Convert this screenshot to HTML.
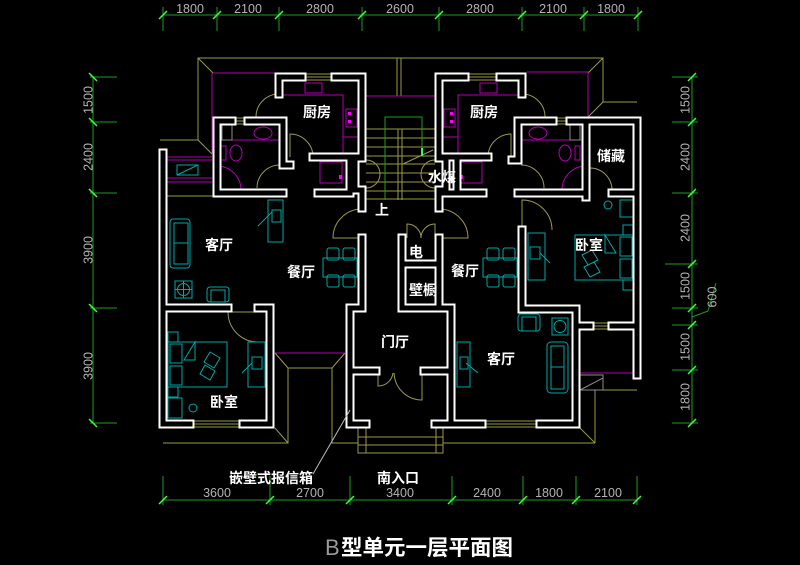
<!DOCTYPE html>
<html><head><meta charset="utf-8"><style>
html,body{margin:0;padding:0;background:#000;}
svg{display:block;}
.t{font-family:"Liberation Sans","Noto Sans CJK SC",sans-serif;fill:#fff;font-size:14px;font-weight:bold;text-anchor:middle;}
.d{font-family:"Liberation Sans",sans-serif;fill:#b4b4b4;font-size:12.5px;text-anchor:middle;}
</style></head><body>
<svg width="800" height="565" viewBox="0 0 800 565" xmlns="http://www.w3.org/2000/svg">
<rect width="800" height="565" fill="#000"/>
<defs>
<g id="w">
<path d="M279,94 V77 H302"/>
<path d="M335,77 H362 V158 H355 V190 H362 V208"/>
<path d="M313,157 H362"/>
<path d="M248,121 H283 V165 H290"/>
<path d="M232,121 H217 V193 H283"/>
<path d="M318,193 H350 V160"/>
<path d="M163,153 V424 H190"/>
<path d="M163,308 H228"/>
<path d="M258,308 H270 V424 H243"/>
<path d="M362,238 V308 H350 V424 H366"/>
<path d="M350,371 H376"/>
<path d="M402,238 V308 H451 V424"/>
<path d="M435,424 H482"/>
<path d="M439,238 V308"/>
<path d="M402,264 H439"/>
<path d="M424,371 H451"/>
<path d="M465,77 H439 V158 H446 V190 H439 V208"/>
<path d="M500,77 H522 V94"/>
<path d="M439,157 H488"/>
<path d="M457,160 V193"/>
<path d="M439,193 H483"/>
<path d="M512,160 H518 V121 H553"/>
<path d="M570,121 H637 V375"/>
<path d="M586,121 V197"/>
<path d="M518,193 H586"/>
<path d="M612,193 H637"/>
<path d="M522,230 V309 H576 V424 H540"/>
<path d="M576,326 H590"/>
<path d="M612,326 H637"/>
</g>
</defs>

<!-- yellow outer / site lines -->
<g fill="none" stroke="#9a9a48" stroke-width="1">
<path d="M160,140 H198 V58 H603 V102 H637"/>
<path d="M198,58 L213,73"/>
<path d="M603,58 L588,73"/>
<path d="M198,140 L212,154"/>
<path d="M603,102 L588,117"/>
<path d="M397,58 V96 M401,58 V96"/>
<path d="M167,196 H213"/>
<path d="M163,443 H288 V368 H332 V443 H358"/>
<path d="M275,428 L288,443"/>
<path d="M275,353 L288,368 M345,353 L332,368"/>
<path d="M358,428 V453 H443 V428"/>
<path d="M366,428 V453 M436,428 V453"/>
<path d="M358,437 H443 M358,445 H443"/>
<path d="M443,443 H595"/>
<path d="M580,428 L595,443"/>
<path d="M595,390 V443 M603,390 H637"/>
<!-- stair treads -->
<path d="M366,129 H435 M366,138 H435 M366,147 H435 M366,156 H435 M366,164 H435 M366,173 H435 M366,182 H435 M366,191 H435 M366,199 H435"/>
<path d="M398,129 V200 M402,129 V200"/>
<path d="M403,164 L433,150"/>
<!-- windows -->
<path d="M302,74 H335 M302,77 H335 M302,80 H335"/>
<path d="M465,74 H500 M465,77 H500 M465,80 H500"/>
<path d="M232,118 H248 M232,121 H248 M232,124 H248"/>
<path d="M553,118 H570 M553,121 H570 M553,124 H570"/>
<path d="M190,421 H243 M190,424 H243 M190,427 H243"/>
<path d="M482,421 H540 M482,424 H540 M482,427 H540"/>
<path d="M590,323 H612 M590,326 H612 M590,329 H612"/>
<!-- doors -->
<path d="M279,94 A23,23 0 0,0 256,117"/>
<path d="M290,157 V134 A23,23 0 0,1 313,157"/>
<path d="M257,188 A23,23 0 0,1 280,165"/>
<path d="M362,238 H333 A29,29 0 0,1 362,209"/>
<path d="M439,238 H468 A29,29 0 0,0 439,209"/>
<path d="M258,312 H228 A30,30 0 0,0 258,342"/>
<path d="M522,94 A23,23 0 0,1 545,117"/>
<path d="M511,157 V134 A23,23 0 0,0 488,157"/>
<path d="M544,188 A23,23 0 0,0 521,165"/>
<path d="M590,168 A22,22 0 0,1 612,190"/>
<path d="M522,230 V200 A30,30 0 0,1 552,230"/>
<path d="M407,238 V224 A14,14 0 0,1 421,238 M435,238 V224 A14,14 0 0,0 421,238"/>
<path d="M378,375 V386 A15,15 0 0,0 393,373"/>
<path d="M422,375 V400 A28,28 0 0,1 394,373"/>
<path d="M366,160 A14,14 0 0,1 380,174 M366,188 A14,14 0 0,0 380,174"/>
<path d="M435,160 A14,14 0 0,0 421,174 M435,188 A14,14 0 0,1 421,174"/>
</g>

<!-- green stair arrow -->
<g fill="none" stroke="#1f9a1f" stroke-width="1">
<path d="M385,200 V117 H422 V150"/>
</g>
<path d="M422,148 V156" stroke="#40ff40" stroke-width="2"/>

<!-- magenta -->
<g fill="none" stroke="#b400b4" stroke-width="1">
<path d="M213,73 H275"/>
<path d="M212,73 V153"/>
<path d="M527,72 H588 V117"/>
<path d="M362,96 H439"/>
<path d="M167,157 H212 M167,160 H212 M167,178 H212 M167,182 H212"/>
<path d="M275,353 H345"/>
<path d="M580,373 H633"/>
<path d="M283,95 H343 V155"/>
<rect x="305" y="83" width="17" height="10"/>
<rect x="346" y="109" width="11" height="18"/>
<rect x="320" y="162" width="22" height="21"/>
<rect x="343" y="137" width="15" height="17"/>
<path d="M518,95 H458 V155"/>
<rect x="480" y="83" width="17" height="10"/>
<rect x="444" y="109" width="11" height="18"/>
<rect x="460" y="162" width="22" height="21"/>
<rect x="443" y="137" width="15" height="17"/>
<path d="M217,140 H283"/>
<ellipse cx="263" cy="133" rx="9" ry="6"/>
<ellipse cx="236" cy="153" rx="6" ry="8"/>
<rect x="221" y="146" width="5" height="14"/>
<path d="M217,166 A24,24 0 0,1 241,190"/>
<path d="M518,140 H582"/>
<ellipse cx="538" cy="133" rx="9" ry="6"/>
<ellipse cx="565" cy="153" rx="6" ry="8"/>
<rect x="575" y="146" width="5" height="14"/>
<path d="M586,166 A24,24 0 0,0 562,190"/>
</g>
<g fill="#ff00ff">
<rect x="348" y="112" width="3" height="3"/><rect x="348" y="120" width="3" height="3"/>
<rect x="450" y="112" width="3" height="3"/><rect x="450" y="120" width="3" height="3"/>
<rect x="339" y="175" width="3" height="4"/><rect x="460" y="175" width="3" height="4"/>
</g>

<!-- gray bits -->
<g fill="none" stroke="#8a8a8a" stroke-width="1">
<rect x="222" y="125" width="10" height="15"/>
<rect x="570" y="125" width="10" height="15"/>
<rect x="580" y="375" width="23" height="15"/>
<path d="M580,390 L603,378"/>
</g>

<!-- cyan furniture -->
<g fill="none" stroke="#00a8a8" stroke-width="1">
<rect x="177" y="165" width="21" height="10"/><path d="M177,175 L198,165"/>
<rect x="170" y="219" width="20" height="49" rx="3"/>
<rect x="174" y="223" width="14" height="41"/><path d="M174,243 H188"/>
<rect x="207" y="287" width="22" height="15" rx="3"/><rect x="211" y="290" width="14" height="12"/>
<rect x="175" y="281" width="17" height="17"/><circle cx="183.5" cy="289.5" r="6"/>
<path d="M175,289.5 H192 M183.5,281 V298"/>
<rect x="268" y="200" width="15" height="42"/><rect x="272" y="210" width="9" height="12"/><path d="M258,226 L272,212"/>
<rect x="323" y="258" width="34" height="19"/>
<rect x="327" y="248" width="12" height="12" rx="2"/><rect x="343" y="248" width="12" height="12" rx="2"/>
<rect x="327" y="275" width="12" height="12" rx="2"/><rect x="343" y="275" width="12" height="12" rx="2"/>
<rect x="168" y="342" width="59" height="45"/>
<rect x="170" y="344" width="12" height="19"/><rect x="170" y="366" width="12" height="19"/>
<rect x="168" y="332" width="10" height="10"/><rect x="168" y="387" width="10" height="10"/>
<path d="M195,342 L184,360 H195 Z"/>
<path d="M210,352 L220,358 L214,368 L204,362 Z M205,365 L215,371 L210,380 L200,374 Z"/>
<rect x="248" y="342" width="17" height="45"/><rect x="252" y="357" width="10" height="12"/><path d="M242,373 L252,363"/>
<circle cx="193" cy="408" r="4"/><rect x="168" y="398" width="14" height="20"/>
<rect x="483" y="258" width="34" height="19"/>
<rect x="487" y="248" width="12" height="12" rx="2"/><rect x="503" y="248" width="12" height="12" rx="2"/>
<rect x="487" y="275" width="12" height="12" rx="2"/><rect x="503" y="275" width="12" height="12" rx="2"/>
<rect x="528" y="233" width="17" height="47"/><rect x="530" y="247" width="10" height="12"/><path d="M540,253 L550,263"/>
<rect x="575" y="235" width="58" height="45"/>
<rect x="620" y="237" width="12" height="19"/><rect x="620" y="259" width="12" height="19"/>
<rect x="623" y="225" width="10" height="10"/><rect x="623" y="280" width="10" height="10"/>
<path d="M605,235 L616,253 H605 Z"/>
<path d="M582,255 L592,250 L598,260 L588,265 Z M584,267 L594,262 L600,272 L590,277 Z"/>
<rect x="620" y="200" width="13" height="17"/><circle cx="608" cy="205" r="4"/>
<rect x="518" y="314" width="22" height="17" rx="3"/><rect x="522" y="317" width="14" height="14"/>
<rect x="552" y="318" width="16" height="17"/><circle cx="560" cy="326.5" r="6"/>
<rect x="547" y="342" width="21" height="51" rx="4"/><rect x="551" y="346" width="13" height="43"/><path d="M551,367 H564"/>
<rect x="457" y="342" width="13" height="45"/><rect x="460" y="357" width="8" height="12"/><path d="M466,363 L478,373"/>
</g>

<!-- walls -->
<use href="#w" fill="none" stroke="#fff" stroke-width="9" stroke-linecap="square" stroke-linejoin="miter"/>
<use href="#w" fill="none" stroke="#000" stroke-width="5" stroke-linecap="square" stroke-linejoin="miter"/>

<!-- dimensions -->
<g fill="none" stroke="#1f9a1f" stroke-width="1">
<path d="M163,15 H638"/>
<path d="M163,7 V31 M217,7 V31 M279,7 V31 M362,7 V31 M439,7 V31 M522,7 V31 M584,7 V31 M638,7 V31"/>
<path d="M93,77 V423"/>
<path d="M90,77 H117 M90,122 H117 M90,193 H117 M90,308 H117 M90,423 H117"/>
<path d="M692,77 V423"/>
<path d="M672,77 H698 M672,122 H698 M672,193 H698 M665,264 H698 M672,308 H698 M672,325 H698 M672,370 H698 M672,423 H698"/>
<path d="M692,317 L708,311 L716,283"/>
<path d="M163,500 H637"/>
<path d="M163,476 V505 M270,476 V505 M350,476 V505 M452,476 V505 M523,476 V505 M576,476 V505 M637,476 V505"/>
</g>
<g fill="none" stroke="#40ff40" stroke-width="1.5">
<path d="M159,19 L167,11 M213,19 L221,11 M275,19 L283,11 M358,19 L366,11 M435,19 L443,11 M518,19 L526,11 M580,19 L588,11 M634,19 L642,11"/>
<path d="M89,73 L97,81 M89,118 L97,126 M89,189 L97,197 M89,304 L97,312 M89,419 L97,427"/>
<path d="M688,81 L696,73 M688,126 L696,118 M688,197 L696,189 M688,268 L696,260 M688,312 L696,304 M688,329 L696,321 M688,374 L696,366 M688,427 L696,419"/>
<path d="M159,504 L167,496 M266,504 L274,496 M346,504 L354,496 M448,504 L456,496 M519,504 L527,496 M572,504 L580,496 M633,504 L641,496"/>
</g>

<g class="d">
<text x="190" y="13">1800</text>
<text x="248" y="13">2100</text>
<text x="320" y="13">2800</text>
<text x="400" y="13">2600</text>
<text x="480" y="13">2800</text>
<text x="553" y="13">2100</text>
<text x="611" y="13">1800</text>
<text x="217" y="497">3600</text>
<text x="310" y="497">2700</text>
<text x="400" y="497">3400</text>
<text x="487" y="497">2400</text>
<text x="549" y="497">1800</text>
<text x="608" y="497">2100</text>
<text x="88" y="104.5" transform="rotate(-90 88 100)">1500</text>
<text x="88" y="161.5" transform="rotate(-90 88 157)">2400</text>
<text x="88" y="254.5" transform="rotate(-90 88 250)">3900</text>
<text x="88" y="370.5" transform="rotate(-90 88 366)">3900</text>
<text x="685" y="104.5" transform="rotate(-90 685 100)">1500</text>
<text x="685" y="161.5" transform="rotate(-90 685 157)">2400</text>
<text x="685" y="232.5" transform="rotate(-90 685 228)">2400</text>
<text x="685" y="290.5" transform="rotate(-90 685 286)">1500</text>
<text x="685" y="351.5" transform="rotate(-90 685 347)">1500</text>
<text x="685" y="401.5" transform="rotate(-90 685 397)">1800</text>
<text x="712" y="301.5" transform="rotate(-90 712 297)">600</text>
</g>

<path d="M313,474 L350,410" stroke="#bdbdbd" stroke-width="1" fill="none"/>

<!-- room labels -->
<g class="t">
<text x="317" y="117">厨房</text>
<text x="484" y="117">厨房</text>
<text x="611" y="161">储藏</text>
<text x="442" y="182">水煤</text>
<text x="382" y="215">上</text>
<text x="219" y="250">客厅</text>
<text x="301" y="277">餐厅</text>
<text x="416" y="257">电</text>
<text x="423" y="295">壁橱</text>
<text x="465" y="276">餐厅</text>
<text x="589" y="250">卧室</text>
<text x="395" y="347">门厅</text>
<text x="501" y="364">客厅</text>
<text x="224" y="407">卧室</text>
<text x="271" y="483">嵌壁式报信箱</text>
<text x="398" y="483">南入口</text>
</g>

<!-- title -->
<text x="325" y="555" font-family="Liberation Sans, sans-serif" font-size="22" fill="#9a9a9a">B</text>
<text x="341" y="555" font-family="Liberation Sans, Noto Sans CJK SC, sans-serif" font-size="21.5" font-weight="bold" fill="#fff">型单元一层平面图</text>
</svg>
</body></html>
